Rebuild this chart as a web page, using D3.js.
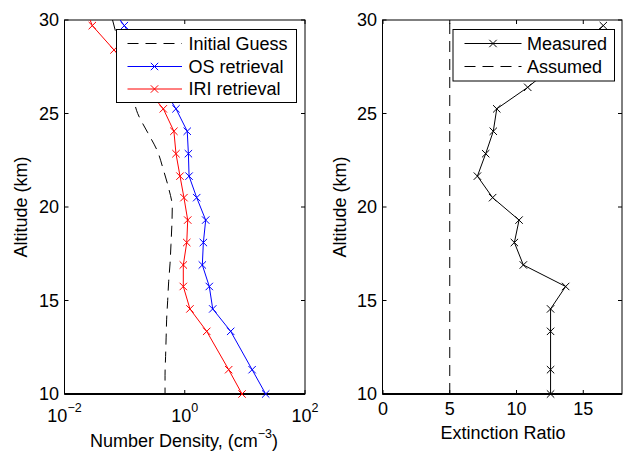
<!DOCTYPE html>
<html>
<head>
<meta charset="utf-8">
<script src="https://cdn.jsdelivr.net/npm/d3@7"></script>
<style>
  html, body { margin: 0; padding: 0; background: #fff; }
  svg { display: block; font-family: "Liberation Sans", Arial, Helvetica, sans-serif; }
</style>
</head>
<body>
<svg id="chart" width="623" height="454"></svg>
<script>
// ---------------- DATA ----------------
// Left panel: number density vs altitude
const osAlt   = [31.0, 29.7, 25.25, 24.05, 22.85, 21.65, 20.5, 19.3, 18.1, 16.9, 15.75, 14.55, 13.35, 11.3, 10.0];
const osVal   = [0.049, 0.099, 0.715, 1.10, 1.15, 1.18, 1.58, 2.23, 2.04, 1.96, 2.56, 2.92, 5.81, 13.2, 22.2];
const iriAlt  = [31.0, 29.7, 28.4, 25.25, 24.05, 22.85, 21.65, 20.5, 19.3, 18.1, 16.9, 15.75, 14.55, 13.35, 11.3, 10.0];
const iriVal  = [0.020, 0.029, 0.0665, 0.44, 0.66, 0.715, 0.834, 0.97, 1.12, 1.08, 0.946, 0.946, 1.22, 2.32, 5.38, 8.97];
const guessAlt = [30, 29, 28, 27, 26, 25, 24, 23, 22, 21, 20, 19, 18, 17, 16, 15, 14, 13, 12, 11, 10];
const guessVal = [0.063, 0.076, 0.092, 0.112, 0.135, 0.165, 0.24, 0.35, 0.44, 0.54, 0.62, 0.61, 0.59, 0.57, 0.54, 0.52, 0.50, 0.49, 0.48, 0.47, 0.47];
// Right panel: extinction ratio vs altitude
const measAlt = [29.7, 26.4, 25.25, 24.05, 22.85, 21.65, 20.5, 19.3, 18.1, 16.9, 15.75, 14.55, 13.35, 11.3, 10.0];
const measVal = [16.5, 10.84, 8.52, 8.26, 7.69, 7.07, 8.21, 10.19, 9.84, 10.51, 13.68, 12.55, 12.55, 12.55, 12.55];
const assumedAlt = [10, 30];
const assumedVal = [5, 5];
// Axes ticks / labels
const altTicks = [10, 15, 20, 25, 30];
const logTicks = [0.01, 1, 100];
const logTickExp = ["\u22122", "0", "2"];
const ratioTicks = [0, 5, 10, 15];
const leftLegend = ["Initial Guess", "OS retrieval", "IRI retrieval"];
const rightLegend = ["Measured", "Assumed"];

// ---------------- LAYOUT ----------------
const svg = d3.select("#chart");
const FS = 18;
const yTop = 20, yBot = 394;
const L = {x0: 64.5, x1: 305};
const R = {x0: 382.5, x1: 622};
const dash = "11,7";

const y = d3.scaleLinear().domain([10, 30]).range([yBot, yTop]);
const xL = d3.scaleLog().domain([0.01, 100]).range([L.x0, L.x1]);
const xR = d3.scaleLinear().domain([0, 17.9]).range([R.x0 + 0.5, R.x1]);

const defs = svg.append("defs");
function clip(id, p) {
  defs.append("clipPath").attr("id", id).append("rect")
    .attr("x", p.x0).attr("y", yTop).attr("width", p.x1 - p.x0).attr("height", yBot - yTop);
}
clip("clipL", L); clip("clipR", R);

function xMarker(g, data, xs, color) {
  const s = 3.7;
  g.selectAll(null).data(data.filter(d => d.a <= 30.05)).enter().append("path")
    .attr("d", d => {
      const cx = xs(d.v), cy = y(d.a);
      return `M${cx - s},${cy - s}L${cx + s},${cy + s}M${cx - s},${cy + s}L${cx + s},${cy - s}`;
    })
    .attr("stroke", color).attr("stroke-width", 1).attr("fill", "none");
}
function series(g, alts, vals, xs, color, opts) {
  const data = alts.map((a, i) => ({a, v: vals[i]}));
  const line = d3.line().x(d => xs(d.v)).y(d => y(d.a));
  if (opts.curve) line.curve(opts.curve);
  g.append("path").datum(data).attr("d", line)
    .attr("fill", "none").attr("stroke", color).attr("stroke-width", 1)
    .attr("stroke-dasharray", opts.dash || null)
    .attr("clip-path", `url(#${opts.clip})`);
  if (opts.marker) xMarker(g, data, xs, color);
}

function axesBox(p) {
  const g = svg.append("g");
  g.append("rect").attr("x", p.x0).attr("y", yTop).attr("width", p.x1 - p.x0).attr("height", yBot - yTop)
    .attr("fill", "none").attr("stroke", "#000").attr("stroke-width", 1);
  g.append("line").attr("x1", p.x0).attr("x2", p.x1).attr("y1", yBot).attr("y2", yBot)
    .attr("stroke", "#000").attr("stroke-width", 2);
  altTicks.forEach(t => {
    const yy = y(t);
    g.append("line").attr("x1", p.x0).attr("x2", p.x0 + 4).attr("y1", yy).attr("y2", yy).attr("stroke", "#000");
    g.append("line").attr("x1", p.x1 - 4).attr("x2", p.x1).attr("y1", yy).attr("y2", yy).attr("stroke", "#000");
    g.append("text").attr("x", p.x0 - 5.5).attr("y", yy).attr("dy", "0.36em")
      .attr("text-anchor", "end").attr("font-size", FS).text(t);
  });
  return g;
}

// ---------------- LEFT PANEL ----------------
const gL = axesBox(L);
logTicks.forEach((t, i) => {
  const xx = xL(t);
  gL.append("line").attr("x1", xx).attr("x2", xx).attr("y1", yBot).attr("y2", yBot - 4).attr("stroke", "#000");
  gL.append("line").attr("x1", xx).attr("x2", xx).attr("y1", yTop).attr("y2", yTop + 4).attr("stroke", "#000");
  const tx = gL.append("text").attr("x", xx).attr("y", 421.5).attr("text-anchor", "middle").attr("font-size", FS);
  tx.append("tspan").text("10");
  tx.append("tspan").attr("font-size", 12.5).attr("dy", -10).text(logTickExp[i]);
});
const lineG = svg.append("g");
series(lineG, guessAlt, guessVal, xL, "#000", {dash, clip: "clipL", curve: d3.curveMonotoneY});
series(lineG, osAlt, osVal, xL, "#0000ff", {marker: true, clip: "clipL"});
series(lineG, iriAlt, iriVal, xL, "#ff0000", {marker: true, clip: "clipL"});

const xlab = svg.append("text").attr("x", 184).attr("y", 447).attr("text-anchor", "middle").attr("font-size", FS);
xlab.append("tspan").text("Number Density, (cm");
xlab.append("tspan").attr("font-size", 12.5).attr("dy", -9).text("\u22123");
xlab.append("tspan").attr("dy", 9).text(")");
svg.append("text").attr("transform", `translate(26.5,${(yTop + yBot) / 2}) rotate(-90)`)
  .attr("text-anchor", "middle").attr("font-size", FS).text("Altitude (km)");

// Left legend
const lgL = svg.append("g");
lgL.append("rect").attr("x", 116.5).attr("y", 29.5).attr("width", 180).attr("height", 73)
  .attr("fill", "#fff").attr("stroke", "#000").attr("stroke-width", 1);
const legLColors = ["#000", "#0000ff", "#ff0000"];
const legLRows = [43.5, 66.5, 89];
leftLegend.forEach((name, i) => {
  const yy = legLRows[i];
  lgL.append("line").attr("x1", 127.5).attr("x2", 182).attr("y1", yy).attr("y2", yy)
    .attr("stroke", legLColors[i]).attr("stroke-dasharray", i === 0 ? dash : null);
  if (i > 0) {
    const s = 3.7, cx = 154.5;
    lgL.append("path").attr("d", `M${cx - s},${yy - s}L${cx + s},${yy + s}M${cx - s},${yy + s}L${cx + s},${yy - s}`)
      .attr("stroke", legLColors[i]).attr("fill", "none");
  }
  lgL.append("text").attr("x", 188.5).attr("y", yy).attr("dy", "0.36em").attr("font-size", FS).text(name);
});

// ---------------- RIGHT PANEL ----------------
const gR = axesBox(R);
ratioTicks.forEach(t => {
  const xx = xR(t);
  gR.append("line").attr("x1", xx).attr("x2", xx).attr("y1", yBot).attr("y2", yBot - 4).attr("stroke", "#000");
  gR.append("line").attr("x1", xx).attr("x2", xx).attr("y1", yTop).attr("y2", yTop + 4).attr("stroke", "#000");
  gR.append("text").attr("x", xx).attr("y", 415).attr("text-anchor", "middle").attr("font-size", FS).text(t);
});
const lineR = svg.append("g");
series(lineR, assumedAlt, assumedVal, xR, "#000", {dash, clip: "clipR"});
series(lineR, measAlt, measVal, xR, "#000", {marker: true, clip: "clipR"});

svg.append("text").attr("x", 503).attr("y", 438.5).attr("text-anchor", "middle").attr("font-size", FS).text("Extinction Ratio");
svg.append("text").attr("transform", `translate(346,${(yTop + yBot) / 2}) rotate(-90)`)
  .attr("text-anchor", "middle").attr("font-size", FS).text("Altitude (km)");

// Right legend
const lgR = svg.append("g");
lgR.append("rect").attr("x", 453).attr("y", 29.5).attr("width", 161.5).attr("height", 51.5)
  .attr("fill", "#fff").attr("stroke", "#000").attr("stroke-width", 1);
const legRRows = [43.5, 66.5];
rightLegend.forEach((name, i) => {
  const yy = legRRows[i];
  lgR.append("line").attr("x1", 464.5).attr("x2", 521.5).attr("y1", yy).attr("y2", yy)
    .attr("stroke", "#000").attr("stroke-dasharray", i === 1 ? dash : null);
  if (i === 0) {
    const s = 3.7, cx = 493;
    lgR.append("path").attr("d", `M${cx - s},${yy - s}L${cx + s},${yy + s}M${cx - s},${yy + s}L${cx + s},${yy - s}`)
      .attr("stroke", "#000").attr("fill", "none");
  }
  lgR.append("text").attr("x", 527).attr("y", yy).attr("dy", "0.36em").attr("font-size", FS).text(name);
});
</script>
</body>
</html>
